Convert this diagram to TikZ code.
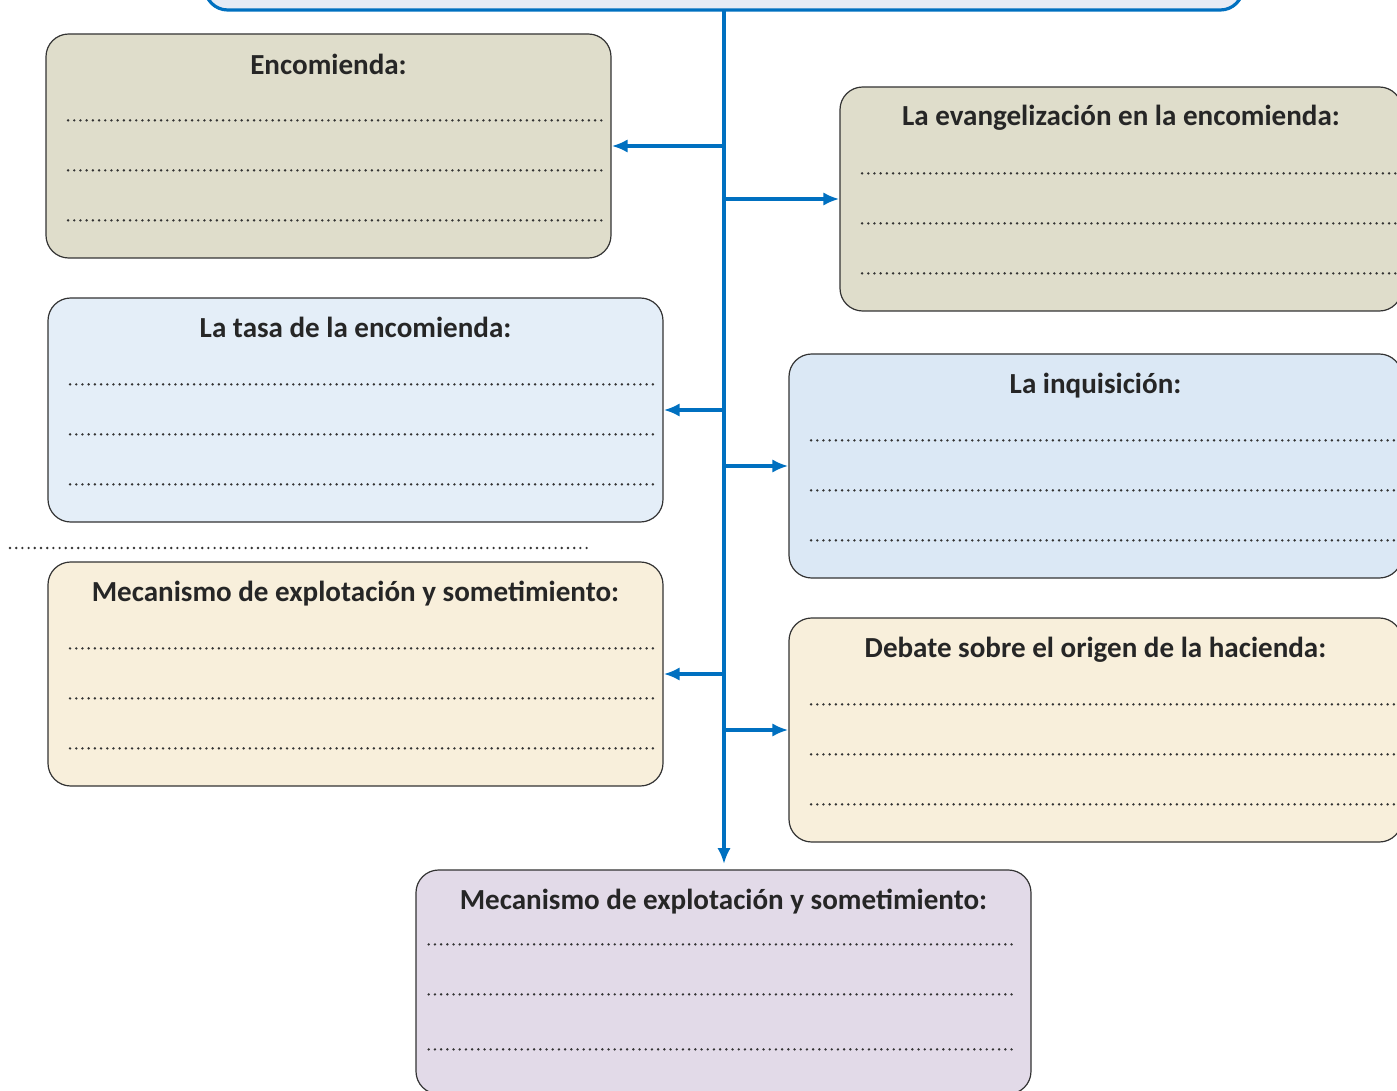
\documentclass[tikz,border=0pt]{standalone}
\usepackage{fontspec}
\setmainfont{Carlito}
\usetikzlibrary{arrows.meta}
\definecolor{xanh}{HTML}{0070C0}
\definecolor{nau}{HTML}{DFDDCB}
\definecolor{lam}{HTML}{E4EEF8}
\definecolor{lamdam}{HTML}{DBE8F5}
\definecolor{vang}{HTML}{F8EFDB}
\definecolor{tim}{HTML}{E2DAE8}
\definecolor{dauxanh}{HTML}{E6EBF5}
\begin{document}
\begin{tikzpicture}[x=0.75pt,y=-0.75pt,>={Latex[length=12pt,width=10pt]},line join=round,line cap=round]
	\tikzset{hop/.style={draw=black!80,line width=0.9pt,rounded corners=17pt,inner sep=0pt,minimum height=168pt},
		tieu/.style={font=\bfseries\fontsize{21.8}{24}\selectfont,text=black!85},
		cham/.style={line width=2pt,dash pattern=on 0pt off 4.65pt,color=black!80},
		mui/.style={->,draw=xanh,line width=2.4pt}}
	\useasboundingbox (0,0) rectangle (1397,1091);
	\clip (0,0) rectangle (1397,1091);
	%%%%Hộp trên cùng
	\node[hop,draw=xanh,line width=2.4pt,fill=dauxanh,minimum width=778.5pt,minimum height=52.5pt] (dau) at (724,-25) {};
	%%%%Các hộp
	\node[hop,fill=nau,minimum width=423.75pt] (enc) at (328.5,146) {};
	\node[hop,fill=nau,minimum width=421.5pt] (evan) at (1121,199) {};
	\node[hop,fill=lam,minimum width=461.25pt] (tasa) at (355.5,410) {};
	\node[hop,fill=lamdam,minimum width=459.75pt] (inq) at (1095.5,466) {};
	\node[hop,fill=vang,minimum width=461.25pt] (mec) at (355.5,674) {};
	\node[hop,fill=vang,minimum width=459.75pt] (deb) at (1095.5,730) {};
	\node[hop,fill=tim,minimum width=461.25pt] (cuoi) at (723.5,982) {};
	%%%%Tiêu đề
	\node[tieu] (tenc) at ([yshift=-23.5pt]enc.north) {Encomienda:};
	\node[tieu] (tevan) at ([yshift=-23.5pt]evan.north) {La evangelización en la encomienda:};
	\node[tieu] (ttasa) at ([yshift=-22.5pt]tasa.north) {La tasa de la encomienda:};
	\node[tieu] (tinq) at ([yshift=-24.5pt]inq.north) {La inquisición:};
	\node[tieu] (tmec) at ([yshift=-24pt]mec.north) {Mecanismo de explotación y sometimiento:};
	\node[tieu] (tdeb) at ([yshift=-24.5pt]deb.north) {Debate sobre el origen de la hacienda:};
	\node[tieu] (tcuoi) at ([yshift=-24pt]cuoi.north) {Mecanismo de explotación y sometimiento:};
	%%%%Dòng chấm
	\foreach \b in {enc,evan,tasa,inq,mec,deb}{
		\foreach \d in {65.25,102.75,140.25}{
			\draw[cham] ([xshift=17pt,yshift=-\d pt]\b.north west) -- ([xshift=-5pt,yshift=-\d pt]\b.north east);
		}
	}
	\foreach \d in {56.25,93.75,135}{
		\draw[cham] ([xshift=10pt,yshift=-\d pt]cuoi.north west) -- ([xshift=-13pt,yshift=-\d pt]cuoi.north east);
	}
	\draw[cham] (10,548) -- (592,548);
	%%%%Mũi tên
	\draw[mui,shorten >=4pt] (dau.south) -- (dau.south |- cuoi.north);
	\foreach \b in {enc,tasa,mec}{
		\draw[mui] (\b.east -| dau.south) -- (\b.east);
	}
	\foreach \b in {evan,inq,deb}{
		\draw[mui] (\b.west -| dau.south) -- (\b.west);
	}
\end{tikzpicture}
\end{document}
